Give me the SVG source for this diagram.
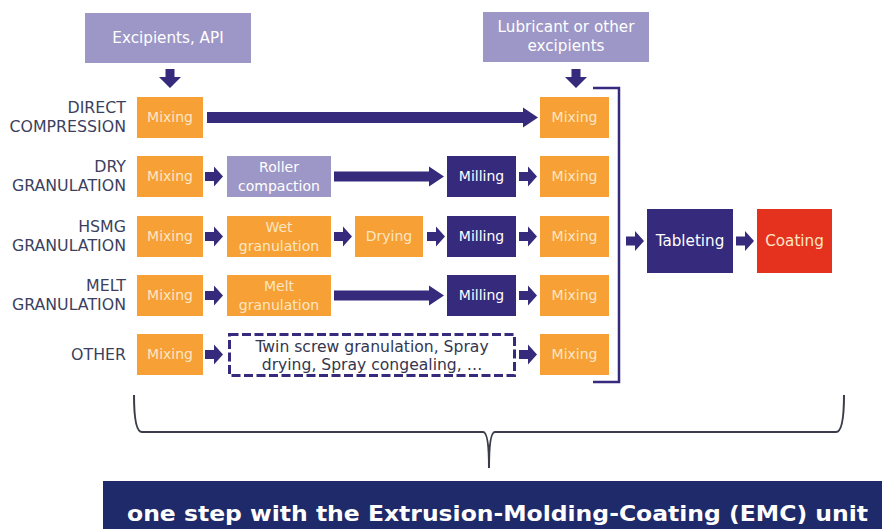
<svg xmlns="http://www.w3.org/2000/svg" width="882" height="529" viewBox="0 0 882 529">
<defs>
<style>
.lbl{font-family:"DejaVu Sans",Verdana,sans-serif;font-size:15.8px;fill:#3c3f5e;text-anchor:end}
.bt{font-family:"DejaVu Sans",Verdana,sans-serif;font-size:14px;text-anchor:middle}
.b15{font-size:15.2px}
.tw{font-size:15.6px;fill:#34364f}
.or{fill:#f6a035}
.dp{fill:#352a7c}
.lp{fill:#9d97c7}
.ot{fill:#fde6c4}
.wt{fill:#ffffff}
.ar{fill:#352a7c}
</style>
<path id="sa" d="M0,-4.5 H9 V-10 L18,0 L9,10 V4.5 H0 Z"/>
<path id="da" d="M-4.5,0 H4.5 V8 H11 L0,19 L-11,8 H-4.5 Z"/>
</defs>
<rect width="882" height="529" fill="#ffffff"/>

<g id="row-labels">
<text class="lbl" x="126" y="113">DIRECT</text>
<text class="lbl" x="126" y="132">COMPRESSION</text>
<text class="lbl" x="126" y="172">DRY</text>
<text class="lbl" x="126" y="191">GRANULATION</text>
<text class="lbl" x="126" y="232">HSMG</text>
<text class="lbl" x="126" y="251">GRANULATION</text>
<text class="lbl" x="126" y="291">MELT</text>
<text class="lbl" x="126" y="310">GRANULATION</text>
<text class="lbl" x="126" y="360">OTHER</text>
</g>

<g id="excipients-api"><rect class="lp" x="85" y="13" width="166" height="50"/><text class="bt b15 wt" x="168" y="43">Excipients, API</text></g>
<g id="lubricant"><rect class="lp" x="483" y="12" width="166" height="50"/><text class="bt b15 wt" x="566" y="32">Lubricant or other</text><text class="bt b15 wt" x="566" y="51">excipients</text></g>

<g id="mix-1a"><rect class="or" x="137" y="97" width="66" height="41"/><text class="bt ot" x="170" y="122">Mixing</text></g>
<g id="mix-2a"><rect class="or" x="137" y="156" width="66" height="41"/><text class="bt ot" x="170" y="181">Mixing</text></g>
<g id="mix-3a"><rect class="or" x="137" y="216" width="66" height="41"/><text class="bt ot" x="170" y="241">Mixing</text></g>
<g id="mix-4a"><rect class="or" x="137" y="275" width="66" height="41"/><text class="bt ot" x="170" y="300">Mixing</text></g>
<g id="mix-5a"><rect class="or" x="137" y="334" width="66" height="41"/><text class="bt ot" x="170" y="359">Mixing</text></g>

<g id="roller"><rect class="lp" x="227" y="156" width="104" height="41"/><text class="bt wt" x="279" y="172">Roller</text><text class="bt wt" x="279" y="191">compaction</text></g>
<g id="wet"><rect class="or" x="227" y="216" width="104" height="41"/><text class="bt ot" x="279" y="232">Wet</text><text class="bt ot" x="279" y="251">granulation</text></g>
<g id="drying"><rect class="or" x="355" y="216" width="68" height="41"/><text class="bt ot" x="389" y="241">Drying</text></g>
<g id="melt"><rect class="or" x="227" y="275" width="104" height="41"/><text class="bt ot" x="279" y="291">Melt</text><text class="bt ot" x="279" y="310">granulation</text></g>
<g id="other-box"><rect x="229.5" y="334.5" width="285" height="41" fill="none" stroke="#352a7c" stroke-width="3" stroke-dasharray="9,3.5"/><text class="bt tw" x="372" y="352">Twin screw granulation, Spray</text><text class="bt tw" x="372" y="370">drying, Spray congealing, …</text></g>

<g id="mill-2"><rect class="dp" x="447" y="156" width="69" height="41"/><text class="bt wt" x="481.5" y="181">Milling</text></g>
<g id="mill-3"><rect class="dp" x="447" y="216" width="69" height="41"/><text class="bt wt" x="481.5" y="241">Milling</text></g>
<g id="mill-4"><rect class="dp" x="447" y="275" width="69" height="41"/><text class="bt wt" x="481.5" y="300">Milling</text></g>

<g id="mix-1b"><rect class="or" x="540" y="97" width="69" height="41"/><text class="bt ot" x="574.5" y="122">Mixing</text></g>
<g id="mix-2b"><rect class="or" x="540" y="156" width="69" height="41"/><text class="bt ot" x="574.5" y="181">Mixing</text></g>
<g id="mix-3b"><rect class="or" x="540" y="216" width="69" height="41"/><text class="bt ot" x="574.5" y="241">Mixing</text></g>
<g id="mix-4b"><rect class="or" x="540" y="275" width="69" height="41"/><text class="bt ot" x="574.5" y="300">Mixing</text></g>
<g id="mix-5b"><rect class="or" x="540" y="334" width="69" height="41"/><text class="bt ot" x="574.5" y="359">Mixing</text></g>

<g id="tableting"><rect class="dp" x="647" y="209" width="86" height="64"/><text class="bt b15 wt" x="690" y="246">Tableting</text></g>
<g id="coating"><rect fill="#e5321f" x="757" y="209" width="75" height="64"/><text class="bt b15 ot" x="794.5" y="246">Coating</text></g>

<g id="connectors">
<use href="#da" class="ar" x="170" y="69"/>
<use href="#da" class="ar" x="576" y="69"/>
<path class="ar" d="M207,112 H523 V107.5 L538,117.5 L523,127.5 V123 H207 Z"/>
<path class="ar" d="M334,171.5 H429 V166.5 L444,176.5 L429,186.5 V181.5 H334 Z"/>
<path class="ar" d="M334,290.5 H429 V285.5 L444,295.5 L429,305.5 V300.5 H334 Z"/>
<use href="#sa" class="ar" x="205" y="176.5"/>
<use href="#sa" class="ar" x="205" y="236.5"/>
<use href="#sa" class="ar" x="205" y="295.5"/>
<use href="#sa" class="ar" x="205" y="354.5"/>
<use href="#sa" class="ar" x="334" y="236.5"/>
<use href="#sa" class="ar" x="427" y="236.5"/>
<use href="#sa" class="ar" x="519" y="176.5"/>
<use href="#sa" class="ar" x="519" y="236.5"/>
<use href="#sa" class="ar" x="519" y="295.5"/>
<use href="#sa" class="ar" x="519" y="354.5"/>
<use href="#sa" class="ar" x="626" y="241"/>
<use href="#sa" class="ar" x="736" y="241"/>
<polyline points="593,88 619,88 619,382 593,382" fill="none" stroke="#352a7c" stroke-width="2.5"/>
<path d="M134,395 Q134,432 142,432 H483 Q489,432 489,468 Q489,432 495,432 H836 Q844,432 844,395" fill="none" stroke="#3a3c4a" stroke-width="2"/>
</g>

<g id="banner"><rect fill="#1f2a6a" x="103" y="481" width="779" height="48"/><text x="127" y="521" font-family="'DejaVu Sans',Verdana,sans-serif" font-weight="bold" font-size="21" fill="#ffffff" textLength="741" lengthAdjust="spacingAndGlyphs">one step with the Extrusion-Molding-Coating (EMC) unit</text></g>
</svg>
